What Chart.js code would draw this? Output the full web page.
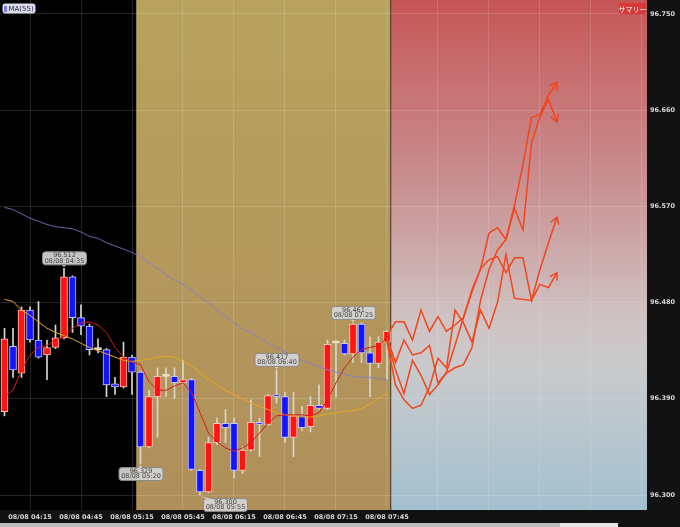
<!DOCTYPE html>
<html>
<head>
<meta charset="utf-8">
<script src="https://cdn.jsdelivr.net/npm/chart.js@4"></script>
<style>
  html, body { margin: 0; padding: 0; background: #121212; }
  canvas { display: block; }
</style>
</head>
<body>
<canvas id="usdJpyChart" width="680" height="527"></canvas>
<script>
// 5分足 08/08 04:00 - 07:45
const barTimes = ['04:00', '04:05', '04:10', '04:15', '04:20', '04:25', '04:30', '04:35', '04:40', '04:45',
    '04:50', '04:55', '05:00', '05:05', '05:10', '05:15', '05:20', '05:25', '05:30', '05:35',
    '05:40', '05:45', '05:50', '05:55', '06:00', '06:05', '06:10', '06:15', '06:20', '06:25',
    '06:30', '06:35', '06:40', '06:45', '06:50', '06:55', '07:00', '07:05', '07:10', '07:15',
    '07:20', '07:25', '07:30', '07:35', '07:40', '07:45']
const opens = [96.378, 96.439, 96.414, 96.473, 96.445, 96.431, 96.438, 96.447, 96.504, 96.466,
    96.458, 96.436, 96.436, 96.404, 96.401, 96.429, 96.415, 96.345, 96.392, 96.411,
    96.411, 96.405, 96.408, 96.323, 96.303, 96.349, 96.367, 96.367, 96.323, 96.342,
    96.368, 96.366, 96.393, 96.392, 96.354, 96.374, 96.364, 96.384, 96.381, 96.442,
    96.442, 96.432, 96.460, 96.433, 96.423, 96.443]
const highs = [96.456, 96.456, 96.476, 96.476, 96.481, 96.445, 96.459, 96.512, 96.505, 96.478,
    96.460, 96.446, 96.437, 96.410, 96.443, 96.431, 96.416, 96.398, 96.419, 96.419,
    96.419, 96.426, 96.409, 96.324, 96.354, 96.372, 96.380, 96.372, 96.345, 96.389,
    96.372, 96.394, 96.417, 96.396, 96.396, 96.383, 96.392, 96.403, 96.445, 96.445,
    96.445, 96.461, 96.461, 96.448, 96.448, 96.454]
const lows = [96.374, 96.410, 96.410, 96.443, 96.428, 96.408, 96.437, 96.446, 96.452, 96.450,
    96.431, 96.433, 96.392, 96.394, 96.400, 96.394, 96.329, 96.344, 96.354, 96.392,
    96.390, 96.404, 96.323, 96.300, 96.302, 96.347, 96.349, 96.316, 96.320, 96.341,
    96.336, 96.365, 96.386, 96.349, 96.336, 96.360, 96.359, 96.380, 96.380, 96.392,
    96.431, 96.424, 96.424, 96.392, 96.419, 96.408]
const closes = [96.446, 96.417, 96.473, 96.445, 96.429, 96.438, 96.447, 96.504, 96.466, 96.458,
    96.436, 96.436, 96.403, 96.401, 96.429, 96.415, 96.345, 96.392, 96.411, 96.411,
    96.405, 96.408, 96.324, 96.303, 96.349, 96.367, 96.363, 96.323, 96.342, 96.368,
    96.366, 96.393, 96.392, 96.354, 96.374, 96.363, 96.384, 96.381, 96.441, 96.442,
    96.432, 96.460, 96.433, 96.423, 96.443, 96.453]

// 移動平均
const maShort = [96.392, 96.398, 96.417, 96.431, 96.438, 96.440, 96.445, 96.448, 96.456, 96.461,
    96.462, 96.459, 96.452, 96.438, 96.429, 96.424, 96.422, 96.406, 96.398, 96.398,
    96.402, 96.405, 96.396, 96.377, 96.358, 96.350, 96.344, 96.341, 96.344, 96.349,
    96.358, 96.367, 96.374, 96.375, 96.375, 96.375, 96.374, 96.377, 96.389, 96.405,
    96.419, 96.429, 96.436, 96.438, 96.440, 96.447]
const maMid = [96.483, 96.481, 96.473, 96.468, 96.462, 96.456, 96.452, 96.449, 96.446, 96.442,
    96.438, 96.435, 96.432, 96.429, 96.426, 96.425, 96.426, 96.427, 96.429, 96.430,
    96.429, 96.425, 96.421, 96.414, 96.408, 96.403, 96.398, 96.394, 96.390, 96.386,
    96.383, 96.380, 96.377, 96.375, 96.374, 96.373, 96.373, 96.374, 96.376, 96.377,
    96.378, 96.379, 96.381, 96.385, 96.390, 96.395]
const ma55 = [96.569, 96.567, 96.563, 96.559, 96.556, 96.553, 96.551, 96.550, 96.549, 96.546,
    96.542, 96.540, 96.536, 96.533, 96.530, 96.527, 96.523, 96.517, 96.512, 96.506,
    96.501, 96.497, 96.492, 96.485, 96.480, 96.473, 96.467, 96.461, 96.455, 96.452,
    96.447, 96.442, 96.438, 96.434, 96.430, 96.426, 96.423, 96.420, 96.417, 96.415,
    96.413, 96.411, 96.410, 96.410, 96.409, 96.408]

// 予測パス (07:45 から 5分ごと)
const forecastA = [96.449, 96.462, 96.462, 96.445, 96.473, 96.453, 96.467, 96.453, 96.459, 96.466,
    96.492, 96.511, 96.545, 96.550, 96.539, 96.571, 96.609, 96.653, 96.656, 96.674, 96.686]
const forecastB = [96.447, 96.424, 96.445, 96.431, 96.433, 96.440, 96.405, 96.414, 96.419, 96.422,
    96.438, 96.482, 96.511, 96.529, 96.539, 96.568, 96.548, 96.629, 96.654, 96.670, 96.649]
const forecastC = [96.445, 96.417, 96.395, 96.426, 96.412, 96.394, 96.403, 96.415, 96.440, 96.466,
    96.490, 96.512, 96.520, 96.523, 96.508, 96.522, 96.522, 96.482, 96.511, 96.536, 96.560]
const forecastD = [96.443, 96.403, 96.389, 96.381, 96.384, 96.401, 96.428, 96.419, 96.473, 96.461,
    96.443, 96.473, 96.456, 96.480, 96.525, 96.484, 96.483, 96.482, 96.497, 96.494, 96.508]

const yTicks = [96.300, 96.390, 96.480, 96.570, 96.660, 96.750]
const xTickLabels = ['08/08 04:15', '08/08 04:45', '08/08 05:15', '08/08 05:45',
    '08/08 06:15', '08/08 06:45', '08/08 07:15', '08/08 07:45']
const xTickValues = [0, 6, 12, 18, 24, 30, 36, 42, 48, 54, 60, 66, 72]

// 高値・安値マーカー
const markerTimes = ['04:35', '05:20', '05:55', '06:40', '07:25']
const markerSides = ['high', 'low', 'low', 'high', 'high']

const firstBar = barTimes.indexOf('04:15')
const lastBar = barTimes.length - 1 - firstBar
const sessionStart = barTimes.indexOf('05:20') - firstBar - 0.5
const sessionEnd = lastBar + 0.5

const barX = barTimes.map((t, i) => i - firstBar)
const isUp = closes.map((c, i) => c > opens[i])
const isFlat = closes.map((c, i) => c === opens[i])

const chartCanvas = document.getElementById('usdJpyChart')
const chartContext = chartCanvas.getContext('2d')

const backgroundPlugin = {
    id: 'sessionBackground',
    beforeDraw(chart) {
        const {ctx, chartArea: a, scales: {x}} = chart
        ctx.save()
        ctx.fillStyle = '#121212'
        ctx.fillRect(0, 0, chart.width, chart.height)
        const s1 = x.getPixelForValue(sessionStart)
        const s2 = x.getPixelForValue(sessionEnd)
        ctx.fillStyle = '#000000'
        ctx.fillRect(a.left, a.top, s1 - a.left, a.bottom - a.top)
        const gold = ctx.createLinearGradient(0, a.top, 0, a.bottom)
        gold.addColorStop(0, '#b9a25e')
        gold.addColorStop(1, '#b08f5a')
        ctx.fillStyle = gold
        ctx.fillRect(s1, a.top, s2 - s1, a.bottom - a.top)
        const future = ctx.createLinearGradient(0, a.top, 0, a.bottom)
        future.addColorStop(0, '#c65656')
        future.addColorStop(0.35, '#c98e90')
        future.addColorStop(0.62, '#cfc2c2')
        future.addColorStop(0.72, '#c9cacc')
        future.addColorStop(1, '#a3c0cf')
        ctx.fillStyle = future
        ctx.fillRect(s2, a.top, a.right - s2, a.bottom - a.top)
        ctx.fillStyle = '#5c4a2c'
        ctx.fillRect(Math.round(s2) - 1, a.top, 1, a.bottom - a.top)
        // scrollbar
        ctx.fillStyle = '#bdbdbd'
        ctx.fillRect(0, chart.height - 4, 560, 4)
        ctx.fillStyle = '#e6e6e6'
        ctx.fillRect(560, chart.height - 4, 58, 4)
        ctx.restore()
    }
}

const arrowPlugin = {
    id: 'forecastArrows',
    afterDatasetsDraw(chart) {
        const {ctx} = chart
        chart.data.datasets.forEach((ds, i) => {
            if (!ds.forecast) return
            const pts = chart.getDatasetMeta(i).data
            const p1 = pts[pts.length - 2], p2 = pts[pts.length - 1]
            const ang = Math.atan2(p2.y - p1.y, p2.x - p1.x)
            ctx.save()
            ctx.strokeStyle = ds.borderColor
            ctx.lineWidth = 1.5
            ctx.beginPath()
            ctx.moveTo(p2.x + 8 * Math.cos(ang + 2.6), p2.y + 8 * Math.sin(ang + 2.6))
            ctx.lineTo(p2.x, p2.y)
            ctx.lineTo(p2.x + 8 * Math.cos(ang - 2.6), p2.y + 8 * Math.sin(ang - 2.6))
            ctx.stroke()
            ctx.restore()
        })
    }
}

function roundRect(ctx, x, y, w, h, r) {
    ctx.beginPath()
    ctx.moveTo(x + r, y)
    ctx.arcTo(x + w, y, x + w, y + h, r)
    ctx.arcTo(x + w, y + h, x, y + h, r)
    ctx.arcTo(x, y + h, x, y, r)
    ctx.arcTo(x, y, x + w, y, r)
    ctx.closePath()
}

const markerPlugin = {
    id: 'priceMarkers',
    afterDatasetsDraw(chart, args, opts) {
        const {ctx, scales: {x, y}} = chart
        markerTimes.forEach((t, m) => {
            const i = barTimes.indexOf(t)
            const high = markerSides[m] === 'high'
            const price = high ? highs[i] : lows[i]
            const px = x.getPixelForValue(barX[i])
            const py = y.getPixelForValue(price)
            const shift = (opts.shifts && opts.shifts[m]) || 0
            const w = 44, h = 13
            const bx = px + shift - w / 2
            const by = high ? py - 4 - h : py + 3
            ctx.save()
            ctx.fillStyle = 'rgba(214,214,214,0.92)'
            ctx.strokeStyle = '#8a8a8a'
            ctx.lineWidth = 1
            roundRect(ctx, bx + 0.5, by + 0.5, w, h, 3)
            ctx.fill()
            ctx.stroke()
            ctx.beginPath()
            if (high) {
                ctx.moveTo(px - 2, by + h + 1)
                ctx.lineTo(px + 2, by + h + 1)
                ctx.lineTo(px, py - 1)
            } else {
                ctx.moveTo(px, py + 1)
                ctx.lineTo(bx + (shift ? 4 : w / 2 - 2), by + 1)
                ctx.lineTo(bx + (shift ? 9 : w / 2 + 2), by + 1)
            }
            ctx.closePath()
            ctx.fill()
            ctx.fillStyle = '#444'
            ctx.font = '6.5px "DejaVu Sans"'
            ctx.textAlign = 'center'
            ctx.textBaseline = 'middle'
            ctx.fillText(price.toFixed(3), bx + w / 2 + 0.5, by + 4)
            ctx.fillText('08/08 ' + t, bx + w / 2 + 0.5, by + 9.5)
            ctx.restore()
        })
    }
}

const badgePlugin = {
    id: 'badges',
    afterDraw(chart) {
        const {ctx, chartArea: a} = chart
        ctx.save()
        ctx.fillStyle = '#dcdcee'
        roundRect(ctx, 2.5, 3.5, 33, 10, 3)
        ctx.fill()
        ctx.fillStyle = '#7a7ae8'
        ctx.fillRect(4, 6, 3, 6)
        ctx.fillStyle = '#222244'
        ctx.font = '7px "DejaVu Sans"'
        ctx.textBaseline = 'middle'
        ctx.fillText('MA(55)', 8.5, 9)
        ctx.fillStyle = '#d83838'
        roundRect(ctx, a.right - 28, 3, 27, 11, 2)
        ctx.fill()
        ctx.fillStyle = '#ffffff'
        ctx.font = '7px "Noto Sans CJK JP"'
        ctx.textAlign = 'center'
        ctx.fillText('サマリー', a.right - 14.5, 9)
        ctx.restore()
    }
}

const lineDataset = (label, values, color, width, order) => ({
    type: 'line',
    label,
    data: values.map((v, i) => ({x: barX[i], y: v})),
    borderColor: color,
    borderWidth: width,
    pointRadius: 0,
    tension: 0,
    order
})

const forecastDataset = (label, values) => ({
    type: 'line',
    label,
    forecast: true,
    data: values.map((v, j) => ({x: lastBar + j, y: v})),
    borderColor: '#f2451c',
    borderWidth: 1.5,
    pointRadius: 0,
    tension: 0,
    order: 0
})

const axisFont = {family: 'DejaVu Sans', size: 6.5, weight: 'bold'}

new Chart(chartContext, {
    data: {
        datasets: [
            {
                type: 'bar',
                label: 'wick',
                data: barX.map((x, i) => ({x, y: [lows[i], highs[i]]})),
                backgroundColor: '#d9d6cc',
                barThickness: 1,
                grouped: false,
                order: 6
            },
            {
                type: 'bar',
                label: 'body',
                data: barX.map((x, i) => ({x, y: [opens[i], closes[i]]})),
                backgroundColor: barX.map((x, i) => isFlat[i] ? '#ece4c8' : (isUp[i] ? '#ff1414' : '#1414ff')),
                borderColor: barX.map((x, i) => isFlat[i] ? '#ece4c8' : (isUp[i] ? '#ffc4b8' : '#c4c4ff')),
                borderWidth: 1,
                borderSkipped: false,
                barThickness: 7,
                minBarLength: 2,
                grouped: false,
                order: 5
            },
            lineDataset('MA(55)', ma55, 'rgba(125,125,215,0.8)', 1, 3),
            lineDataset('MA mid', maMid, '#e8a81c', 1, 2),
            lineDataset('MA short', maShort, '#d41c14', 1, 1),
            forecastDataset('予測1', forecastA),
            forecastDataset('予測2', forecastB),
            forecastDataset('予測3', forecastC),
            forecastDataset('予測4', forecastD)
        ]
    },
    options: {
        responsive: false,
        animation: false,
        layout: {padding: {left: 0, top: 0, right: 0, bottom: 4}},
        scales: {
            x: {
                type: 'linear',
                min: -3.53,
                max: 72.59,
                offset: false,
                afterBuildTicks: s => { s.ticks = xTickValues.map(v => ({value: v})) },
                afterFit: s => {
                    s.height = 13
                    s.paddingLeft = 0
                    s.paddingRight = 0
                },
                grid: {color: 'rgba(255,255,255,0.14)', drawTicks: false, offset: false},
                border: {display: false},
                ticks: {
                    color: '#d6d6d6',
                    font: axisFont,
                    padding: 3,
                    maxRotation: 0,
                    autoSkip: false,
                    callback: v => xTickLabels[xTickValues.indexOf(v)] ?? ''
                }
            },
            y: {
                position: 'right',
                min: 96.286,
                max: 96.763,
                afterBuildTicks: s => { s.ticks = yTicks.map(v => ({value: v})) },
                afterFit: s => {
                    s.width = 33
                    s.paddingTop = 0
                    s.paddingBottom = 0
                },
                grid: {color: 'rgba(255,255,255,0.14)', drawTicks: false},
                border: {display: false},
                ticks: {
                    color: '#d6d6d6',
                    font: axisFont,
                    padding: 3,
                    callback: v => v.toFixed(3)
                }
            }
        },
        plugins: {
            legend: {display: false},
            tooltip: {enabled: false},
            priceMarkers: {shifts: [0, 0, 25, 0, 0]}
        }
    },
    plugins: [backgroundPlugin, arrowPlugin, markerPlugin, badgePlugin]
})
</script>
</body>
</html>
